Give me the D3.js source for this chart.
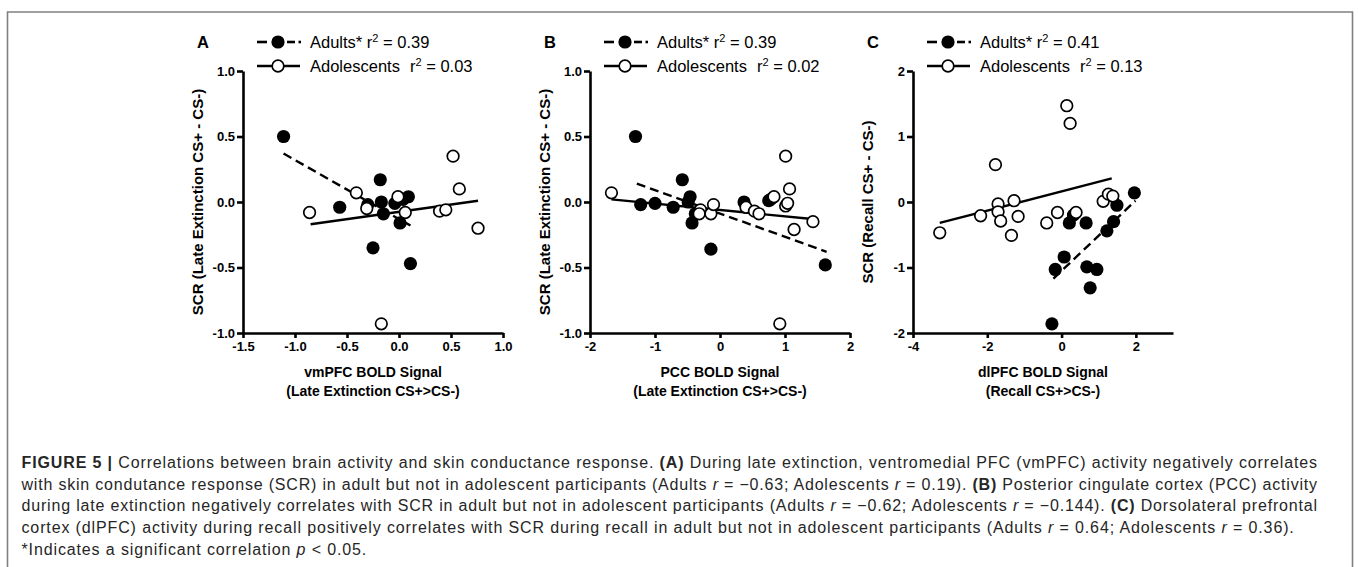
<!DOCTYPE html>
<html lang="en">
<head>
    <meta charset="UTF-8">
    <title>Figure 5</title>
    <script src="https://d3js.org/d3.v7.min.js"></script>
    <style>
        body { margin: 0; background: #fff; }
        svg { font-family: "Liberation Sans", Arial, sans-serif; }
        .axis path, .axis line { stroke: #000; stroke-width: 2.6; }
        .axis text { font-size: 13px; font-weight: bold; fill: #000; font-family: "Liberation Sans", Arial, sans-serif; }
        .title { font-size: 14px; font-weight: bold; fill: #000; }
        .ytitle { font-size: 15px; font-weight: bold; fill: #000; }
        .legend { font-size: 16.5px; fill: #000; }
        .caption { font-size: 16px; fill: #262626; white-space: pre; }
    </style>
</head>
<body>
<script>

    var width = 1358,
        height = 567;

    // data: [x, y]
    var adultsA = [[-1.11, 0.50], [-0.57, -0.04], [-0.30, -0.02], [-0.17, 0.00], [-0.15, -0.09], [-0.25, -0.35],
        [-0.18, 0.17], [-0.04, -0.01], [0.04, 0.02], [0.09, 0.04], [0.01, -0.16], [0.11, -0.47]];
    var teensA = [[-0.86, -0.08], [-0.41, 0.07], [-0.31, -0.05], [-0.01, 0.04], [0.06, -0.08], [-0.17, -0.93],
        [0.39, -0.07], [0.45, -0.06], [0.52, 0.35], [0.58, 0.10], [0.76, -0.20]];
    var adultsFitA = [[-1.11, 0.37], [0.11, -0.18]];
    var teensFitA = [[-0.85, -0.17], [0.76, 0.01]];

    var adultsB = [[-1.30, 0.50], [-0.58, 0.17], [-1.22, -0.02], [-1.00, -0.01], [-0.72, -0.04], [-0.46, 0.04],
        [-0.49, 0.00], [-0.38, -0.09], [-0.43, -0.16], [-0.14, -0.36], [0.37, 0.00], [0.75, 0.01], [0.78, 0.02], [1.62, -0.48]];
    var teensB = [[-1.67, 0.07], [-0.30, -0.06], [-0.32, -0.09], [-0.14, -0.09], [-0.10, -0.02], [0.40, -0.04],
        [0.53, -0.07], [0.60, -0.09], [0.83, 0.04], [1.01, -0.03], [1.04, -0.01], [1.07, 0.10], [1.01, 0.35],
        [1.14, -0.21], [1.43, -0.15], [0.92, -0.93]];
    var adultsFitB = [[-1.28, 0.14], [1.64, -0.38]];
    var teensFitB = [[-1.67, 0.02], [1.42, -0.13]];

    var adultsC = [[0.32, -0.20], [0.21, -0.32], [0.66, -0.32], [1.96, 0.14], [1.49, -0.05], [1.40, -0.30],
        [1.22, -0.44], [0.07, -0.84], [-0.17, -1.03], [0.68, -0.99], [0.95, -1.03], [0.77, -1.31], [-0.26, -1.86]];
    var teensC = [[0.14, 1.47], [0.23, 1.20], [-1.78, 0.57], [-2.18, -0.21], [-1.71, -0.03], [-1.71, -0.15],
        [-1.64, -0.29], [-1.28, 0.02], [-1.17, -0.22], [-1.35, -0.51], [-3.28, -0.47], [-0.40, -0.32],
        [-0.11, -0.16], [0.39, -0.16], [1.12, 0.01], [1.26, 0.12], [1.38, 0.09]];
    var adultsFitC = [[-0.22, -1.17], [1.99, 0.02]];
    var teensFitC = [[-3.28, -0.32], [1.35, 0.36]];

    var panelLetters = ["A", "B", "C"];
    var xDomains = [[-1.5, 1.0], [-2, 2], [-4, 3]];
    var yDomains = [[-1, 1], [-1, 1], [-2, 2]];
    var xTicks = [[-1.5, -1.0, -0.5, 0.0, 0.5, 1.0], [-2, -1, 0, 1, 2], [-4, -2, 0, 2]];
    var yTicks = [[-1.0, -0.5, 0.0, 0.5, 1.0], [-1.0, -0.5, 0.0, 0.5, 1.0], [-2, -1, 0, 1, 2]];
    var xTitles = [["vmPFC BOLD Signal", "(Late Extinction CS+>CS-)"], ["PCC BOLD Signal", "(Late Extinction CS+>CS-)"],
        ["dlPFC BOLD Signal", "(Recall CS+>CS-)"]];
    var yTitles = ["SCR (Late Extinction CS+ - CS-)", "SCR (Late Extinction CS+ - CS-)", "SCR (Recall CS+ - CS-)"];
    var adultsR2 = ["0.39", "0.39", "0.41"];
    var teensR2 = ["0.03", "0.02", "0.13"];

    var captionLines = [
        [["FIGURE 5 | ", "b"], ["Correlations between brain activity and skin conductance response. ", ""], ["(A)", "b"],
            [" During late extinction, ventromedial PFC (vmPFC) activity negatively correlates", ""]],
        [["with skin condutance response (SCR) in adult but not in adolescent participants (Adults ", ""], ["r", "i"],
            [" = \u22120.63; Adolescents ", ""], ["r", "i"], [" = 0.19). ", ""], ["(B)", "b"],
            [" Posterior cingulate cortex (PCC) activity", ""]],
        [["during late extinction negatively correlates with SCR in adult but not in adolescent participants (Adults ", ""],
            ["r", "i"], [" = \u22120.62; Adolescents ", ""], ["r", "i"], [" = \u22120.144). ", ""], ["(C)", "b"],
            [" Dorsolateral prefrontal", ""]],
        [["cortex (dlPFC) activity during recall positively correlates with SCR during recall in adult but not in adolescent participants (Adults ", ""],
            ["r", "i"], [" = 0.64; Adolescents ", ""], ["r", "i"], [" = 0.36).", ""]],
        [["*Indicates a significant correlation ", ""], ["p", "i"], [" < 0.05.", ""]]
    ];

    var adults = [adultsA, adultsB, adultsC];
    var teens = [teensA, teensB, teensC];
    var adultsFit = [adultsFitA, adultsFitB, adultsFitC];
    var teensFit = [teensFitA, teensFitB, teensFitC];

    var svg = d3.select("body").append("svg")
        .attr("width", width)
        .attr("height", height);

    // frame
    svg.append("path")
        .attr("d", "M7.5,567 V12 H1352.5 V567")
        .attr("fill", "none")
        .attr("stroke", "#808080")
        .attr("stroke-width", 1.6);

    var plotLeft = [243, 590, 913],
        plotWidth = 260,
        plotTop = 71,
        plotBottom = 333;

    for (var p = 0; p < 3; p++) {
        drawPanel(p);
    }

    function drawPanel(p) {
        var x = d3.scaleLinear().domain(xDomains[p]).range([plotLeft[p], plotLeft[p] + plotWidth]);
        var y = d3.scaleLinear().domain(yDomains[p]).range([plotBottom, plotTop]);
        var fmtX = p === 0 ? function(d) { return d.toFixed(1); } : function(d) { return String(d); };
        var fmtY = p < 2 ? function(d) { return d.toFixed(1); } : function(d) { return String(d); };

        var g = svg.append("g");

        g.append("g")
            .attr("class", "axis")
            .attr("transform", "translate(0," + plotBottom + ")")
            .call(d3.axisBottom(x).tickValues(xTicks[p]).tickFormat(fmtX).tickSize(5).tickSizeOuter(0).tickPadding(4));

        g.append("g")
            .attr("class", "axis")
            .attr("transform", "translate(" + plotLeft[p] + ",0)")
            .call(d3.axisLeft(y).tickValues(yTicks[p]).tickFormat(fmtY).tickSize(6).tickSizeOuter(0).tickPadding(2));

        // axis titles
        var cx = plotLeft[p] + plotWidth / 2;
        g.append("text").attr("class", "title").attr("x", cx).attr("y", 377)
            .attr("text-anchor", "middle").text(xTitles[p][0]);
        g.append("text").attr("class", "title").attr("x", cx).attr("y", 396)
            .attr("text-anchor", "middle").text(xTitles[p][1]);
        g.append("text").attr("class", "ytitle")
            .attr("transform", "translate(" + (plotLeft[p] - 40) + "," + ((plotTop + plotBottom) / 2) + ") rotate(-90)")
            .attr("text-anchor", "middle").text(yTitles[p]);

        // panel letter
        g.append("text").attr("x", plotLeft[p] - 40).attr("y", 48)
            .attr("text-anchor", "middle").attr("font-weight", "bold").attr("font-size", 16.5)
            .text(panelLetters[p]);

        // regression lines
        var line = d3.line().x(function(d) { return x(d[0]); }).y(function(d) { return y(d[1]); });
        g.append("path").datum(adultsFit[p]).attr("d", line)
            .attr("fill", "none").attr("stroke", "#000").attr("stroke-width", 2.4).attr("stroke-dasharray", "9,5");
        g.append("path").datum(teensFit[p]).attr("d", line)
            .attr("fill", "none").attr("stroke", "#000").attr("stroke-width", 2.4);

        // points
        g.selectAll(".adult").data(adults[p]).enter().append("circle")
            .attr("class", "adult")
            .attr("cx", function(d) { return x(d[0]); })
            .attr("cy", function(d) { return y(d[1]); })
            .attr("r", 6.6)
            .attr("fill", "#000");

        g.selectAll(".teen").data(teens[p]).enter().append("circle")
            .attr("class", "teen")
            .attr("cx", function(d) { return x(d[0]); })
            .attr("cy", function(d) { return y(d[1]); })
            .attr("r", 5.8)
            .attr("fill", "#fff")
            .attr("stroke", "#000")
            .attr("stroke-width", 1.7);

        // legend
        var lx = plotLeft[p] + 14;
        var lg = g.append("g");
        lg.append("line").attr("x1", lx).attr("x2", lx + 10).attr("y1", 42).attr("y2", 42)
            .attr("stroke", "#000").attr("stroke-width", 2.6);
        lg.append("line").attr("x1", lx + 30).attr("x2", lx + 38).attr("y1", 42).attr("y2", 42)
            .attr("stroke", "#000").attr("stroke-width", 2.6);
        lg.append("line").attr("x1", lx + 41.5).attr("x2", lx + 44).attr("y1", 42).attr("y2", 42)
            .attr("stroke", "#000").attr("stroke-width", 2.6);
        lg.append("circle").attr("cx", lx + 21).attr("cy", 42).attr("r", 6.6).attr("fill", "#000");

        lg.append("line").attr("x1", lx).attr("x2", lx + 43).attr("y1", 66).attr("y2", 66)
            .attr("stroke", "#000").attr("stroke-width", 2.6);
        lg.append("circle").attr("cx", lx + 21).attr("cy", 66).attr("r", 5.8)
            .attr("fill", "#fff").attr("stroke", "#000").attr("stroke-width", 1.7);

        var t1 = lg.append("text").attr("class", "legend").attr("x", lx + 53).attr("y", 48);
        t1.append("tspan").text("Adults* r");
        t1.append("tspan").attr("dy", -6).attr("font-size", 11).text("2");
        t1.append("tspan").attr("dy", 6).text(" = " + adultsR2[p]);

        lg.append("text").attr("class", "legend").attr("x", lx + 53).attr("y", 72).text("Adolescents");
        var t2 = lg.append("text").attr("class", "legend").attr("x", lx + 153).attr("y", 72);
        t2.append("tspan").text("r");
        t2.append("tspan").attr("dy", -6).attr("font-size", 11).text("2");
        t2.append("tspan").attr("dy", 6).text(" = " + teensR2[p]);
    }

    // caption
    var capLeft = 21.5,
        capRight = 1317,
        capTop = 468,
        capStep = 21.7,
        spacing = 0;

    captionLines.forEach(function(segs, i) {
        var t = svg.append("text")
            .attr("class", "caption")
            .attr("x", capLeft)
            .attr("y", capTop + i * capStep);
        segs.forEach(function(s) {
            t.append("tspan")
                .attr("font-weight", s[1] === "b" ? "bold" : null)
                .attr("font-style", s[1] === "i" ? "italic" : null)
                .text(s[0]);
        });
        var n = segs.map(function(s) { return s[0]; }).join("").length;
        var w = t.node().getComputedTextLength();
        if (i < 3) {
            var ls = (capRight - capLeft - w) / (n - 1);
            if (i === 0) spacing = ls;
            t.style("letter-spacing", ls + "px");
        } else {
            t.style("letter-spacing", spacing + "px");
        }
    });

</script>
</body>
</html>
